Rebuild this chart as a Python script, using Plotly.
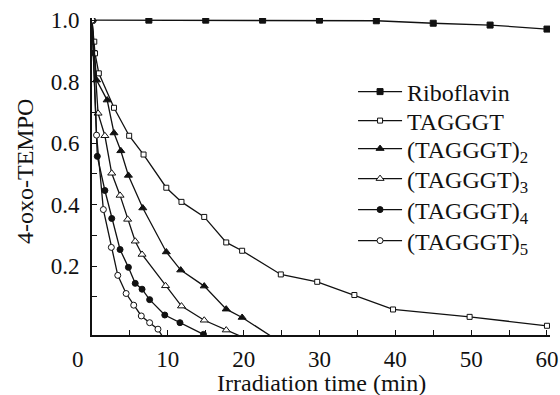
import plotly.graph_objects as go

# ---- data ----
ribo_x = [0, 7.5, 15, 22.5, 30, 37.5, 45, 52.5, 60]
ribo_y = [1.0, 1.0, 1.0, 1.0, 1.0, 0.998, 0.99, 0.984, 0.971]

t1_x = [0, 0.3, 0.4, 0.9, 2.9, 4.9, 6.8, 9.8, 11.8, 14.8, 17.7, 19.8, 24.9, 29.7, 34.6, 39.7, 49.8, 60]
t1_y = [1.0, 0.93, 0.892, 0.827, 0.715, 0.624, 0.563, 0.455, 0.409, 0.360, 0.277, 0.25, 0.173, 0.149, 0.106, 0.059, 0.035, 0.006]

t2_x = [0, 0.6, 2.0, 2.9, 3.8, 4.8, 6.7, 9.8, 11.7, 14.8, 17.7, 19.8, 25]
t2_y = [1.0, 0.805, 0.74, 0.633, 0.575, 0.495, 0.389, 0.246, 0.187, 0.135, 0.06, 0.033, -0.05]

t3_x = [0, 0.8, 1.7, 2.6, 3.7, 4.7, 5.7, 6.6, 9.7, 11.8, 14.8, 17.7, 20.7]
t3_y = [1.0, 0.697, 0.624, 0.502, 0.43, 0.352, 0.281, 0.238, 0.136, 0.07, 0.024, -0.008, -0.04]

t4_x = [0, 0.7, 1.7, 2.6, 3.7, 4.8, 5.7, 6.6, 7.6, 9.6, 11.6, 14.7]
t4_y = [1.0, 0.557, 0.446, 0.355, 0.254, 0.196, 0.144, 0.125, 0.091, 0.041, 0.016, -0.022]

t5_x = [0, 0.6, 1.5, 2.55, 3.4, 4.5, 5.5, 6.5, 7.6, 8.7, 9.7]
t5_y = [1.0, 0.626, 0.384, 0.261, 0.17, 0.111, 0.073, 0.038, 0.016, -0.005, -0.045]

names = ["Riboflavin", "TAGGGT", "(TAGGGT)<sub>2</sub>", "(TAGGGT)<sub>3</sub>",
         "(TAGGGT)<sub>4</sub>", "(TAGGGT)<sub>5</sub>"]

x_ticks = [10, 20, 30, 40, 50, 60]
y_ticks = [0.2, 0.4, 0.6, 0.8, 1.0]

FONT = "Liberation Serif, Times New Roman, Times, serif"
INK = "#111111"

series = [
    (ribo_x, ribo_y, "square", INK, 6),
    (t1_x, t1_y, "square", "white", 5),
    (t2_x, t2_y, "triangle-up", INK, 7),
    (t3_x, t3_y, "triangle-up", "white", 7),
    (t4_x, t4_y, "circle", INK, 6),
    (t5_x, t5_y, "circle", "white", 6),
]

W, H = 560, 395
L, R, T, B = 92, 10, 18, 60
PH = H - T - B
PW = W - L - R

def px_to_paper(sx, sy):
    return (sx - L) / PW, (H - B - sy) / PH

# legend item centres (px)
leg_centres = [92, 121, 149, 179, 210, 241]
leg_x = 0.570

fig = go.Figure()
layout_legends = {}
for i, ((xs, ys, sym, fill, sz), nm) in enumerate(zip(series, names)):
    key = "legend" if i == 0 else f"legend{i + 1}"
    fig.add_trace(go.Scatter(
        x=xs, y=ys, name=nm, mode="lines+markers", legend=key,
        line=dict(color=INK, width=1.3),
        marker=dict(symbol=sym, color=fill, size=sz, line=dict(color=INK, width=1)),
    ))
    layout_legends[key] = dict(
        x=leg_x, y=px_to_paper(0, leg_centres[i])[1], xanchor="left", yanchor="middle",
        bgcolor="rgba(0,0,0,0)", borderwidth=0,
        font=dict(family=FONT, size=24, color=INK),
        itemwidth=44, tracegroupgap=0)

fig.update_layout(
    width=W, height=H,
    margin=dict(l=L, r=R, t=T, b=B, autoexpand=False),
    paper_bgcolor="white", plot_bgcolor="white",
    font=dict(family=FONT, size=23, color=INK),
    showlegend=True,
    xaxis=dict(range=[0, 60.4], showgrid=False, zeroline=False, automargin=False,
               showline=True, linecolor=INK, linewidth=2,
               tickvals=x_ticks, ticktext=[str(v) for v in x_ticks],
               ticks="inside", ticklen=5, tickwidth=1.3, tickcolor=INK,
               minor=dict(tickvals=[5, 15, 25, 35, 45, 55], ticks="inside", ticklen=5,
                          tickwidth=1.3, tickcolor=INK),
               ticklabelstandoff=2),
    yaxis=dict(range=[-0.024, 1.007], showgrid=False, zeroline=False, automargin=False,
               showline=True, linecolor=INK, linewidth=2,
               tickvals=y_ticks, ticktext=["0.2", "0.4", "0.6", "0.8", "1.0"],
               ticks="inside", ticklen=5, tickwidth=1.3, tickcolor=INK,
               minor=dict(tickvals=[0.1, 0.3, 0.5, 0.7, 0.9], ticks="inside", ticklen=5,
                          tickwidth=1.3, tickcolor=INK),
               ticklabelstandoff=6),
    **layout_legends,
)

ax, ay = px_to_paper(321, 383)
fig.add_annotation(text="Irradiation time (min)", xref="paper", yref="paper", x=ax, y=ay,
                   xanchor="center", yanchor="middle", showarrow=False,
                   font=dict(family=FONT, size=24, color=INK))
ax, ay = px_to_paper(25, 172)
fig.add_annotation(text="4-oxo-TEMPO", xref="paper", yref="paper", x=ax, y=ay,
                   xanchor="center", yanchor="middle", showarrow=False, textangle=-90,
                   font=dict(family=FONT, size=24, color=INK))
ax, ay = px_to_paper(78, 359)
fig.add_annotation(text="0", xref="paper", yref="paper", x=ax, y=ay,
                   xanchor="center", yanchor="middle", showarrow=False,
                   font=dict(family=FONT, size=23, color=INK))

fig.write_html(
    "out.html",
    config={"displayModeBar": False},
    post_script="document.body.style.margin='0';document.body.style.overflow='hidden';",
)
